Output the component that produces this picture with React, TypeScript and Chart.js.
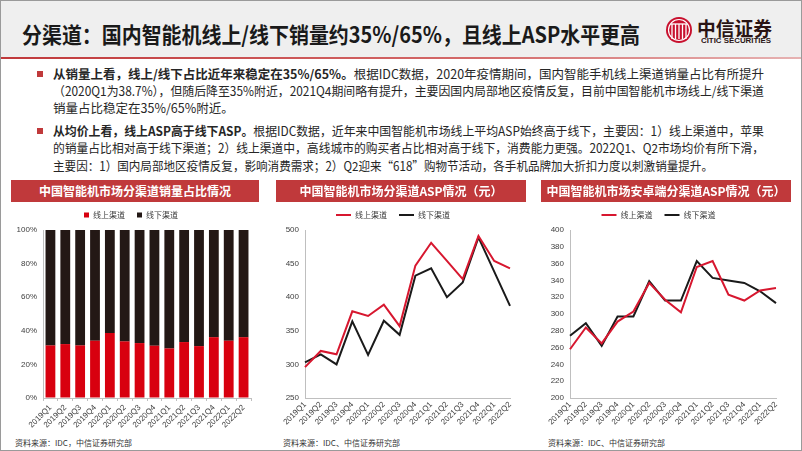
import React, { useEffect, useLayoutEffect, useRef } from "react";
import { Chart, registerables } from "chart.js";

Chart.register(...registerables);

// ---------- data ----------
const quarters = [
  "2019Q1", "2019Q2", "2019Q3", "2019Q4",
  "2020Q1", "2020Q2", "2020Q3", "2020Q4",
  "2021Q1", "2021Q2", "2021Q3", "2021Q4",
  "2022Q1", "2022Q2",
];
const seriesNames = ["线上渠道", "线下渠道"];

// share of sales volume (%)
const onlineShare = [31.3, 32.1, 31.3, 34.1, 38.7, 33.7, 32.7, 31.1, 29.5, 33.3, 30.9, 36.2, 34.1, 36.2];
const offlineShare = [68.7, 67.9, 68.7, 65.9, 61.3, 66.3, 67.3, 68.9, 70.5, 66.7, 69.1, 63.8, 65.9, 63.8];

// ASP (yuan), all smartphones
const onlineAsp = [296, 320, 315, 379, 372, 389, 357, 447, 481, 454, 427, 491, 454, 443];
const offlineAsp = [303, 315, 300, 364, 314, 365, 344, 432, 443, 400, 422, 489, 438, 387];

// ASP (yuan), Android
const androidOnlineAsp = [258, 284, 265, 291, 303, 337, 317, 302, 356, 363, 323, 316, 328, 331];
const androidOfflineAsp = [274, 289, 262, 297, 297, 339, 316, 316, 363, 343, 340, 337, 327, 313];

// axis ranges
const shareAxis = { min: 0, max: 100, step: 20 };
const aspAxis = { min: 250, max: 500, step: 50 };
const androidAxis = { min: 200, max: 400, step: 20 };

// ---------- texts ----------
const titleText = "分渠道：国内智能机线上/线下销量约35%/65%，且线上ASP水平更高";
const chartTitles = [
  "中国智能机市场分渠道销量占比情况",
  "中国智能机市场分渠道ASP情况（元）",
  "中国智能机市场安卓端分渠道ASP情况（元）",
];
const sources = [
  "资料来源：IDC，中信证券研究部",
  "资料来源：IDC、中信证券研究部",
  "资料来源：IDC、中信证券研究部",
];

// ---------- styles ----------
const FONT = "'Liberation Sans', 'Noto Sans CJK SC', sans-serif";
const CJK = "'Noto Sans CJK SC', 'Liberation Sans', sans-serif";
const RED_BAR = "#d8000f";
const BLACK_BAR = "#231815";
const RED_LINE = "#d7172f";
const BLACK_LINE = "#1a1a1a";
const HEAD_RED = "#c0393b";
const AXIS = "#bfbfbf";
const TICK = "#404040";

const CANVAS_TOP = 199;
const CANVAS_H = 236;
const LEGEND_H = 31;
const XAXIS_H = 37;

function legendFix(h: number) {
  return {
    id: "legendFix",
    beforeUpdate(chart: any) {
      const lg = chart.legend;
      if (!lg || lg.__patched) return;
      const orig = lg.fit.bind(lg);
      lg.fit = () => {
        orig();
        lg.height = h;
      };
      lg.__patched = true;
    },
  };
}

function xScale(offset: boolean, ticks: boolean) {
  return {
    offset,
    grid: {
      display: true,
      drawOnChartArea: false,
      drawTicks: ticks,
      tickLength: 3,
      color: AXIS,
      offset: offset,
    },
    border: { display: true, color: AXIS, width: 1 },
    ticks: {
      minRotation: 45,
      maxRotation: 45,
      autoSkip: false,
      padding: 2,
      color: TICK,
      font: { family: FONT, size: 8 },
    },
    afterFit: (s: any) => {
      s.height = XAXIS_H;
    },
  };
}

function yScale(r: { min: number; max: number; step: number }, width: number, pct: boolean, stacked: boolean) {
  return {
    stacked,
    min: r.min,
    max: r.max,
    grid: { display: true, drawOnChartArea: false, drawTicks: false },
    border: { display: true, color: AXIS, width: 1 },
    ticks: {
      stepSize: r.step,
      padding: 6,
      color: TICK,
      font: { family: FONT, size: 8 },
      callback: (v: any) => (pct ? v + "%" : String(v)),
    },
    afterFit: (s: any) => {
      s.width = width;
    },
  };
}

function barConfig(): any {
  return {
    type: "bar",
    data: {
      labels: quarters,
      datasets: [
        {
          label: seriesNames[0],
          data: onlineShare,
          backgroundColor: RED_BAR,
          borderWidth: 0,
          barPercentage: 0.66,
          categoryPercentage: 1,
        },
        {
          label: seriesNames[1],
          data: offlineShare,
          backgroundColor: BLACK_BAR,
          borderWidth: 0,
          barPercentage: 0.66,
          categoryPercentage: 1,
        },
      ],
    },
    options: {
      responsive: false,
      animation: false,
      layout: { padding: { left: 0, right: 10, top: 0, bottom: 0 } },
      plugins: {
        tooltip: { enabled: false },
        legend: {
          position: "top",
          labels: {
            boxWidth: 5,
            boxHeight: 5,
            padding: 12,
            color: TICK,
            font: { family: CJK, size: 8 },
          },
        },
      },
      scales: {
        x: { ...xScale(true, true), stacked: true },
        y: yScale(shareAxis, 32, true, true),
      },
    },
    plugins: [legendFix(LEGEND_H)],
  };
}

function lineConfig(a: number[], b: number[], r: any, rightPad: number): any {
  return {
    type: "line",
    data: {
      labels: quarters,
      datasets: [
        {
          label: seriesNames[0],
          data: a,
          borderColor: RED_LINE,
          backgroundColor: RED_LINE,
          borderWidth: 2,
          pointRadius: 0,
          tension: 0,
        },
        {
          label: seriesNames[1],
          data: b,
          borderColor: BLACK_LINE,
          backgroundColor: BLACK_LINE,
          borderWidth: 2,
          pointRadius: 0,
          tension: 0,
        },
      ],
    },
    options: {
      responsive: false,
      animation: false,
      layout: { padding: { left: 0, right: rightPad, top: 0, bottom: 0 } },
      plugins: {
        tooltip: { enabled: false },
        legend: {
          position: "top",
          labels: {
            usePointStyle: true,
            pointStyle: "line",
            pointStyleWidth: 15,
            padding: 12,
            color: TICK,
            font: { family: CJK, size: 8 },
          },
        },
      },
      scales: {
        x: xScale(false, false),
        y: yScale(r, 29, false, false),
      },
    },
    plugins: [legendFix(LEGEND_H)],
  };
}

function ChartCanvas({ left, config }: { left: number; config: () => any }) {
  const ref = useRef<HTMLCanvasElement>(null);
  useEffect(() => {
    const c = new Chart(ref.current!, config());
    return () => c.destroy();
  }, []);
  return (
    <canvas
      ref={ref}
      width={250}
      height={CANVAS_H}
      style={{ position: "absolute", left, top: CANVAS_TOP, width: 250, height: CANVAS_H }}
    />
  );
}

function FitLine({
  x,
  y,
  width,
  size,
  bold,
  color,
  family,
  children,
}: {
  x: number;
  y: number;
  width?: number;
  size: number;
  bold?: boolean;
  color: string;
  family: string;
  children: any;
}) {
  const ref = useRef<HTMLSpanElement>(null);
  useLayoutEffect(() => {
    const el = ref.current;
    if (!el || !width) return;
    el.style.transform = "none";
    const w = el.getBoundingClientRect().width;
    if (w > 0) el.style.transform = `scaleX(${width / w})`;
  }, []);
  const lh = Math.round(size * 1.4);
  return (
    <div
      style={{
        position: "absolute",
        left: x,
        top: y - lh / 2,
        height: lh,
        lineHeight: lh + "px",
        whiteSpace: "nowrap",
        fontSize: size,
        fontWeight: bold ? 700 : 400,
        color,
        fontFamily: family,
      }}
    >
      <span ref={ref} style={{ display: "inline-block", transformOrigin: "0 50%" }}>
        {children}
      </span>
    </div>
  );
}

function Logo() {
  const bars = [-7, -3.5, 0, 3.5, 7];
  return (
    <svg
      width={30}
      height={30}
      viewBox="-15 -15 30 30"
      style={{ position: "absolute", left: 664, top: 15 }}
    >
      <circle cx={0} cy={0} r={13} fill="#c8102e" />
      <circle cx={0} cy={0} r={10.5} fill="none" stroke="#fff" strokeWidth={1.2} />
      {bars.map((bx, i) => (
        <line key={i} x1={bx} y1={-6} x2={bx} y2={9} stroke="#fff" strokeWidth={1.3} />
      ))}
      <line x1={-8} y1={-6} x2={8} y2={-6} stroke="#fff" strokeWidth={1.3} />
    </svg>
  );
}

export default function App() {
  const para1: any[] = [
    <>
      <b>从销量上看，线上/线下占比近年来稳定在35%/65%。</b>根据IDC数据，2020年疫情期间，国内智能手机线上渠道销量占比有所提升
    </>,
    <>（2020Q1为38.7%），但随后降至35%附近，2021Q4期间略有提升，主要因国内局部地区疫情反复，目前中国智能机市场线上/线下渠道</>,
    <>销量占比稳定在35%/65%附近。</>,
  ];
  const para2: any[] = [
    <>
      <b>从均价上看，线上ASP高于线下ASP。</b>根据IDC数据，近年来中国智能机市场线上平均ASP始终高于线下，主要因：1）线上渠道中，苹果
    </>,
    <>的销量占比相对高于线下渠道；2）线上渠道中，高线城市的购买者占比相对高于线下，消费能力更强。2022Q1、Q2市场均价有所下滑，</>,
    <>主要因：1）国内局部地区疫情反复，影响消费需求；2）Q2迎来“618”购物节活动，各手机品牌加大折扣力度以刺激销量提升。</>,
  ];
  const widths1 = [711, 711, undefined];
  const widths2 = [711, 711, 660];
  const ys1 = [74, 91, 108];
  const ys2 = [131, 148, 166];
  const panels = [11, 276, 541];
  const panelW = [248, 250, 250];

  return (
    <div
      style={{
        position: "fixed",
        left: 0,
        top: 0,
        width: 802,
        height: 451,
        overflow: "hidden",
        background: "#fff",
        fontFamily: CJK,
      }}
    >
      {/* header */}
      <div style={{ position: "absolute", left: 0, top: 0, width: 802, height: 57, background: "#efefef" }} />
      <div
        style={{
          position: "absolute",
          left: 0,
          top: 57,
          width: 802,
          height: 2,
          background: "linear-gradient(to right, #c0393b, #d46a6a 60%, #e6b3b3)",
        }}
      />
      <FitLine x={22} y={33} width={618} size={22} bold color="#1a1a1a" family={CJK}>
        {titleText}
      </FitLine>
      <Logo />
      <FitLine x={697} y={27} width={75} size={19} bold color="#2a1414" family={CJK}>
        中信证券
      </FitLine>
      <FitLine x={701} y={41} width={70} size={7} bold color="#2a1414" family={FONT}>
        CITIC SECURITIES
      </FitLine>

      {/* bullets */}
      <div style={{ position: "absolute", left: 37, top: 71, width: 6, height: 6, background: HEAD_RED }} />
      <div style={{ position: "absolute", left: 37, top: 128, width: 6, height: 6, background: HEAD_RED }} />
      {para1.map((c, i) => (
        <FitLine key={"a" + i} x={53} y={ys1[i]} width={widths1[i]} size={12.5} color="#262626" family={CJK}>
          {c}
        </FitLine>
      ))}
      {para2.map((c, i) => (
        <FitLine key={"b" + i} x={53} y={ys2[i]} width={widths2[i]} size={12.5} color="#262626" family={CJK}>
          {c}
        </FitLine>
      ))}

      {/* charts */}
      <ChartCanvas left={11} config={barConfig} />
      <ChartCanvas left={276} config={() => lineConfig(onlineAsp, offlineAsp, aspAxis, 16)} />
      <ChartCanvas left={541} config={() => lineConfig(androidOnlineAsp, androidOfflineAsp, androidAxis, 15)} />

      {/* chart title bars */}
      {panels.map((px, i) => (
        <div
          key={"t" + i}
          style={{
            position: "absolute",
            left: px,
            top: 180,
            width: panelW[i],
            height: 22,
            lineHeight: "22px",
            background: HEAD_RED,
            color: "#fff",
            fontWeight: 700,
            fontSize: 12,
            textAlign: "center",
            fontFamily: CJK,
            whiteSpace: "nowrap",
          }}
        >
          {chartTitles[i]}
        </div>
      ))}

      {/* sources */}
      {sources.map((s, i) => (
        <FitLine key={"s" + i} x={[15, 283, 548][i]} y={442} size={8} color="#333" family={CJK}>
          {s}
        </FitLine>
      ))}

      {/* slide frame */}
      <div
        style={{
          position: "absolute",
          left: 0,
          top: 0,
          width: 800,
          height: 449,
          border: "1px solid #9a9a9a",
          pointerEvents: "none",
        }}
      />
    </div>
  );
}
